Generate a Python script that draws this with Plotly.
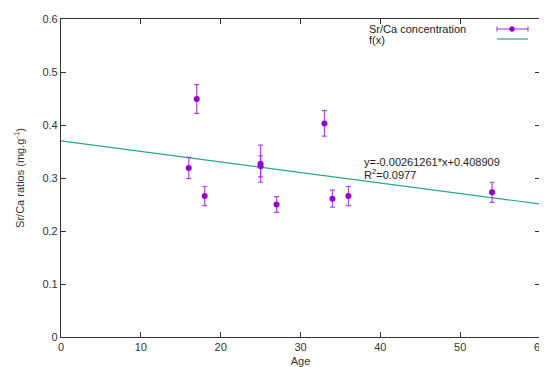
import plotly.graph_objects as go

# Data
age = [16, 17, 18, 25, 25, 27, 33, 34, 36, 54]
srca = [0.319, 0.449, 0.266, 0.327, 0.322, 0.250, 0.403, 0.261, 0.266, 0.273]
err = [0.020, 0.027, 0.018, 0.035, 0.020, 0.015, 0.024, 0.016, 0.018, 0.019]

fit_x = [0, 60]
fit_y = [0.370, 0.251]

x_ticks = [0, 10, 20, 30, 40, 50, 60]
y_ticks = [0, 0.1, 0.2, 0.3, 0.4, 0.5, 0.6]

PURPLE = "#9400D3"
GREEN = "#2aa886"
FONT = "Liberation Sans"

fig = go.Figure()

fig.add_trace(go.Scatter(
    x=fit_x, y=fit_y, mode="lines",
    line=dict(color=GREEN, width=1.2), showlegend=False, hoverinfo="skip"))

fig.add_trace(go.Scatter(
    x=age, y=srca, mode="markers",
    marker=dict(color=PURPLE, size=6),
    error_y=dict(type="data", array=err, visible=True,
                 color="rgba(160,40,220,0.85)", thickness=1.2, width=2.5),
    showlegend=False))

axis_common = dict(
    showline=True, linecolor="#333", linewidth=1.2, mirror="ticks",
    ticks="inside", ticklen=5, tickcolor="#333", tickwidth=1,
    showgrid=False, zeroline=False, automargin=False,
    tickfont=dict(family=FONT, size=11, color="#333"),
)

fig.update_xaxes(range=[0, 60], tickvals=x_ticks, ticktext=[str(v) for v in x_ticks],
                 title=dict(text="Age", font=dict(family=FONT, size=11, color="#333"), standoff=6),
                 **axis_common)
fig.update_yaxes(range=[0, 0.6], tickvals=y_ticks, ticktext=["0", "0.1", "0.2", "0.3", "0.4", "0.5", "0.6"],
                 title=dict(text="Sr/Ca ratios (mg.g<sup>-1</sup>)", font=dict(family=FONT, size=11, color="#333"),
                            standoff=15),
                 **axis_common)


def px_x(p):
    return (p - 61) / 479


def px_y(p):
    return 1 - (p - 19) / 318


# Legend drawn gnuplot-style (text left, sample right)
fig.add_annotation(xref="paper", yref="paper", x=px_x(367), y=px_y(29),
                   text="Sr/Ca concentration", showarrow=False, xanchor="left", yanchor="middle",
                   font=dict(family=FONT, size=11, color="#222"))
fig.add_annotation(xref="paper", yref="paper", x=px_x(367), y=px_y(39.5),
                   text="f(x)", showarrow=False, xanchor="left", yanchor="middle",
                   font=dict(family=FONT, size=11, color="#222"))

# Sr/Ca sample: horizontal bar with caps and dot
fig.add_shape(type="line", xref="paper", yref="paper", x0=px_x(497), x1=px_x(528), y0=px_y(29), y1=px_y(29),
              line=dict(color="rgba(160,40,220,0.85)", width=1.2))
for xc in (497, 528):
    fig.add_shape(type="line", xref="paper", yref="paper", x0=px_x(xc), x1=px_x(xc), y0=px_y(26.5), y1=px_y(31.5),
                  line=dict(color="rgba(160,40,220,0.85)", width=1.2))
fig.add_shape(type="circle", xref="paper", yref="paper", x0=px_x(509.5), x1=px_x(514.5), y0=px_y(31.5), y1=px_y(26.5),
              fillcolor=PURPLE, line=dict(color=PURPLE, width=0.5))
fig.add_shape(type="line", xref="paper", yref="paper", x0=px_x(497), x1=px_x(528), y0=px_y(39), y1=px_y(39),
              line=dict(color=GREEN, width=1.2))

# Fit equation text
fig.add_annotation(xref="paper", yref="paper", x=px_x(362), y=px_y(162),
                   text="y=-0.00261261*x+0.408909", showarrow=False, xanchor="left", yanchor="middle",
                   font=dict(family=FONT, size=11, color="#222"))
fig.add_annotation(xref="paper", yref="paper", x=px_x(362), y=px_y(173.5),
                   text="R<sup>2</sup>=0.0977", showarrow=False, xanchor="left", yanchor="middle",
                   font=dict(family=FONT, size=11, color="#222"))

# The page body adds an 8px offset, so the figure is sized to the remaining window
fig.update_layout(
    width=539, height=359,
    margin=dict(l=53, r=7, t=11, b=30),
    paper_bgcolor="white", plot_bgcolor="white",
    showlegend=False,
)

fig.write_html("out.html")
